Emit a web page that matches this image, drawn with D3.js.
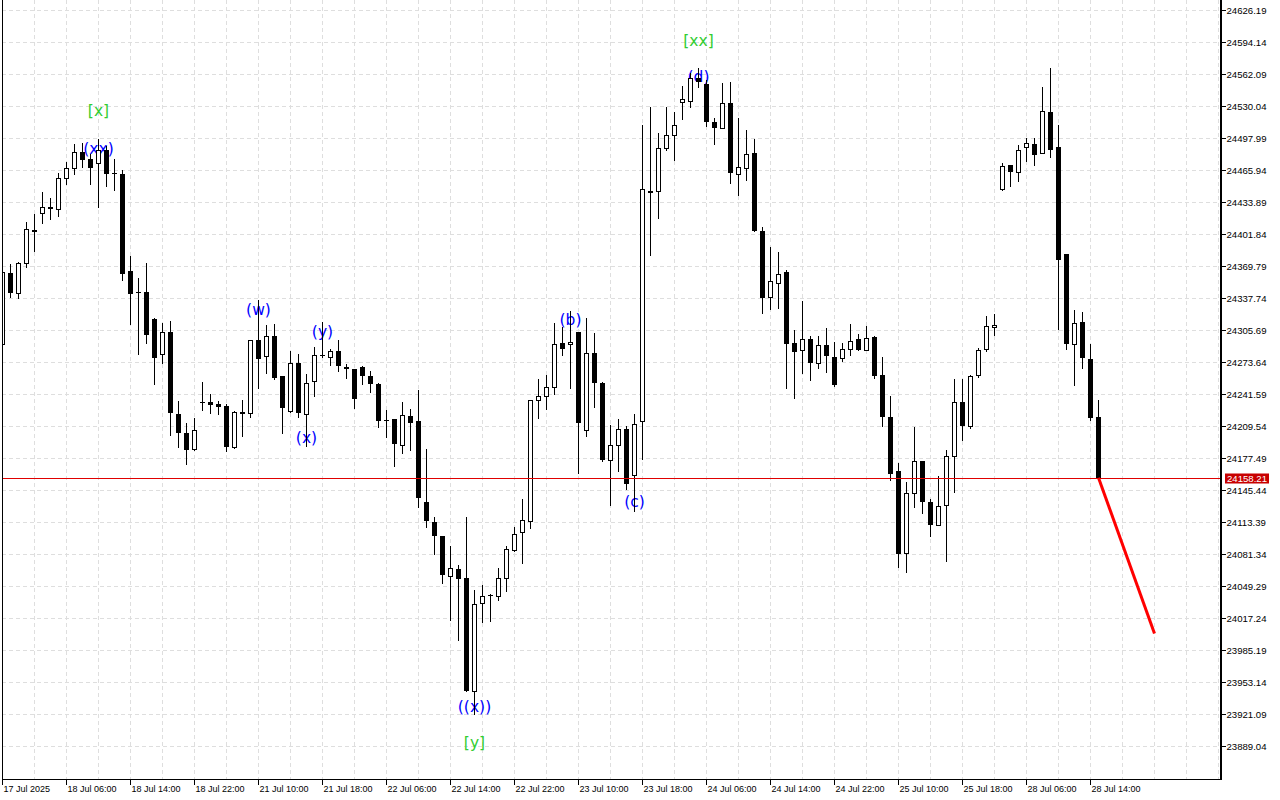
<!DOCTYPE html>
<html lang="en">
<head>
<meta charset="utf-8">
<title>NAS100 H1</title>
<script src="https://d3js.org/d3.v7.min.js"></script>
<style>
  body { margin: 0; background: #fff; }
  svg { display: block; }
  .ax { font-family: "Liberation Sans", Arial, sans-serif; fill: #000; }
  .wave { font-family: "DejaVu Sans", sans-serif; font-size: 15.5px; }
</style>
</head>
<body>
<div id="chart"></div>

<script>

// hourly candles, oldest first
var opens = [24292.4,24363.5,24343.0,24373.5,24406.5,24423.6,24429.6,24427.6,24458.6,24468.6,
  24484.7,24477.7,24473.6,24486.7,24463.2,24462.6,24365.5,24344.4,24344.4,24317.7,
  24282.3,24304.4,24222.3,24203.5,24187.2,24233.6,24234.3,24231.6,24229.6,24188.8,
  24223.1,24223.3,24296.4,24279.9,24300.4,24260.6,24224.9,24273.6,24221.9,24255.3,
  24280.7,24279.3,24285.4,24269.3,24267.6,24269.3,24260.3,24252.3,24216.0,24217.5,
  24191.2,24220.3,24215.2,24134.1,24114.1,24100.1,24060.0,24067.0,24057.9,23944.4,
  24032.9,24040.9,24039.5,24057.6,24086.3,24103.7,24114.7,24236.3,24239.9,24249.3,
  24292.7,24292.4,24304.0,24206.2,24282.7,24253.3,24176.2,24191.2,24207.5,24161.2,
  24215.5,24445.6,24445.6,24488.7,24501.7,24534.7,24535.7,24558.8,24552.8,24515.0,
  24508.7,24533.7,24462.6,24468.0,24483.7,24405.8,24339.4,24353.5,24363.8,24293.4,
  24286.4,24297.4,24273.3,24291.4,24279.6,24278.3,24287.3,24297.4,24286.4,24298.7,
  24261.3,24219.2,24164.8,24082.8,24143.1,24174.5,24134.1,24111.1,24131.1,24179.8,
  24233.6,24209.8,24261.3,24286.7,24309.1,24447.7,24471.4,24464.2,24489.0,24492.1,
  24483.2,24524.1,24489.0,24382.2,24292.3,24314.0,24277.5,24218.8];

var highs = [24367.8,24371.8,24374.5,24413.9,24421.9,24444.9,24438.6,24463.9,24474.9,24492.0,
  24493.3,24482.7,24497.7,24490.0,24477.7,24466.9,24380.5,24358.5,24373.5,24318.4,
  24313.7,24315.7,24235.3,24212.8,24218.2,24254.6,24241.6,24234.6,24232.3,24224.6,
  24235.6,24296.4,24336.7,24310.7,24312.4,24260.6,24284.7,24282.6,24262.3,24289.0,
  24314.0,24287.4,24296.4,24271.9,24267.6,24270.3,24265.6,24253.6,24225.9,24217.5,
  24234.3,24226.9,24245.9,24187.5,24118.7,24100.1,24090.3,24071.0,24119.0,24045.3,
  24050.3,24041.9,24068.3,24090.3,24108.7,24137.4,24236.3,24257.6,24261.6,24313.4,
  24309.0,24325.7,24304.0,24318.0,24302.7,24253.9,24211.5,24216.9,24209.8,24222.3,
  24512.0,24530.0,24503.3,24530.0,24525.0,24550.1,24563.4,24568.8,24556.1,24518.7,
  24553.8,24554.8,24519.0,24507.0,24497.0,24409.8,24389.8,24384.8,24366.5,24305.7,
  24335.7,24299.7,24300.4,24307.7,24294.4,24293.4,24311.7,24301.7,24310.4,24300.4,
  24279.6,24239.6,24173.2,24153.5,24209.5,24174.5,24137.1,24159.5,24186.5,24257.6,
  24256.9,24261.6,24288.5,24320.5,24322.2,24473.5,24471.4,24491.1,24498.7,24498.7,
  24549.7,24568.6,24511.4,24382.2,24326.0,24323.9,24292.1,24236.2];

var lows = [24290.7,24339.0,24338.0,24369.1,24385.8,24413.2,24417.2,24419.9,24452.2,24462.2,
  24469.6,24452.2,24429.2,24450.2,24446.2,24356.1,24312.0,24282.0,24293.0,24251.9,
  24272.9,24201.5,24188.8,24172.2,24186.5,24225.6,24222.9,24221.6,24184.8,24187.8,
  24200.5,24218.9,24247.9,24262.9,24256.9,24202.8,24223.9,24218.9,24189.8,24239.9,
  24279.0,24270.9,24265.3,24257.9,24227.9,24251.9,24243.9,24208.8,24198.8,24169.8,
  24182.8,24185.8,24129.4,24108.7,24081.6,24052.6,24015.5,23995.5,23945.1,23921.1,
  24013.5,24014.5,24035.9,24044.6,24085.3,24072.6,24107.7,24217.8,24227.1,24242.3,
  24281.0,24247.9,24162.8,24200.2,24228.9,24174.8,24130.7,24164.8,24147.1,24125.4,
  24176.8,24381.5,24418.2,24486.0,24476.7,24517.3,24529.7,24549.4,24510.3,24492.7,
  24508.5,24453.2,24441.6,24456.4,24405.1,24323.0,24327.0,24328.0,24247.9,24237.9,
  24262.9,24255.9,24268.3,24263.9,24250.6,24274.9,24281.0,24286.0,24286.4,24257.9,
  24209.8,24156.2,24068.8,24063.8,24128.7,24123.4,24099.7,24110.9,24075.3,24144.1,
  24195.8,24208.2,24259.5,24284.7,24301.5,24446.6,24450.4,24455.9,24475.9,24471.7,
  24483.2,24479.8,24306.7,24287.1,24251.6,24268.1,24216.5,24158.21];

var closes = [24364.1,24343.0,24373.5,24407.5,24404.5,24429.6,24427.6,24458.6,24468.6,24484.7,
  24476.7,24468.2,24486.7,24462.2,24462.2,24362.1,24342.0,24343.4,24301.0,24277.9,
  24304.4,24222.9,24203.2,24186.2,24206.2,24232.9,24231.3,24229.3,24188.8,24223.6,
  24223.6,24296.4,24276.9,24300.4,24258.3,24227.9,24273.6,24222.9,24253.3,24281.0,
  24280.2,24285.4,24269.9,24266.9,24236.9,24259.9,24251.9,24215.2,24215.5,24191.8,
  24221.3,24212.8,24137.9,24114.7,24099.7,24060.6,24068.0,24056.6,23945.1,24031.9,
  24039.9,24039.5,24058.0,24087.0,24102.1,24116.1,24236.3,24239.9,24249.6,24291.7,
  24287.0,24294.4,24212.8,24282.7,24252.9,24175.5,24191.2,24207.2,24151.7,24211.8,
  24447.6,24443.6,24488.7,24501.7,24511.7,24537.7,24558.8,24554.1,24514.7,24508.7,
  24533.7,24463.2,24469.0,24482.7,24405.8,24338.0,24354.8,24362.5,24292.0,24284.0,
  24297.4,24272.9,24291.4,24279.9,24251.6,24287.3,24295.4,24286.0,24298.4,24259.9,
  24219.2,24162.2,24081.8,24143.1,24175.2,24133.7,24111.1,24130.1,24179.8,24234.3,
  24209.8,24260.6,24286.4,24310.2,24311.5,24470.0,24464.9,24486.3,24493.2,24481.8,
  24525.2,24486.0,24376.7,24292.3,24313.0,24277.8,24218.1,24158.21];

var lastPrice = 24158.21;

// price axis labels
var priceTicks = [24626.19,24594.14,24562.09,24530.04,24497.99,24465.94,24433.89,24401.84,
  24369.79,24337.74,24305.69,24273.64,24241.59,24209.54,24177.49,24145.44,24113.39,24081.34,
  24049.29,24017.24,23985.19,23953.14,23921.09,23889.04];

// time axis labels, one every 8 bars
var timeLabels = ["17 Jul 2025","18 Jul 06:00","18 Jul 14:00","18 Jul 22:00","21 Jul 10:00",
  "21 Jul 18:00","22 Jul 06:00","22 Jul 14:00","22 Jul 22:00","23 Jul 10:00","23 Jul 18:00",
  "24 Jul 06:00","24 Jul 14:00","24 Jul 22:00","25 Jul 10:00","25 Jul 18:00","28 Jul 06:00",
  "28 Jul 14:00"];

// wave marks: text, bar, price level, colour
var waveText  = ["[x]","(xx)","(w)","(x)","(y)","((x))","[y]","(b)","(c)","(d)","[xx]"];
var waveBar   = [12, 12, 32, 38, 40, 59, 59, 71, 79, 87, 87];
var waveLevel = [24526.0,24488.0,24326.7,24198.5,24304.7,23929.1,23893.0,24316.7,24134.4,24560.1,24596.1];
var waveColor = ["#32cd32","#0000ff","#0000ff","#0000ff","#0000ff","#0000ff","#32cd32","#0000ff","#0000ff","#0000ff","#32cd32"];

// projected move
var forecastBar = [137, 144];
var forecastPrice = [24158.21, 24002.2];

var width = 1280, height = 800;
var plotRight = 1221, plotBottom = 779;

var svg = d3.select("#chart")
  .append("svg")
  .attr("width", width)
  .attr("height", height);

svg.append("rect").attr("width", width).attr("height", height).attr("fill", "#fff");

var x = d3.scaleLinear().domain([0, 150]).range([2.5, 1202.5]);
var y = d3.scaleLinear().domain([23889.04, 24626.19]).range([746.5, 10.5]);

svg.append("clipPath").attr("id", "plot")
  .append("rect").attr("x", 2).attr("y", 0).attr("width", plotRight - 2).attr("height", plotBottom);

var plot = svg.append("g").attr("clip-path", "url(#plot)");

// grid
plot.append("g")
  .selectAll("line")
  .data(priceTicks)
  .enter().append("line")
    .attr("x1", 2).attr("x2", plotRight)
    .attr("y1", function(d) { return y(d); })
    .attr("y2", function(d) { return y(d); })
    .attr("stroke", "#dedede")
    .attr("stroke-dasharray", "4,3")
    .attr("shape-rendering", "crispEdges");

plot.append("g")
  .selectAll("line")
  .data(d3.range(4, 153, 4))
  .enter().append("line")
    .attr("x1", function(d) { return x(d); })
    .attr("x2", function(d) { return x(d); })
    .attr("y1", 0).attr("y2", plotBottom)
    .attr("stroke", "#dedede")
    .attr("stroke-dasharray", "4,3")
    .attr("shape-rendering", "crispEdges");

// wave labels (under the candles)
plot.append("g")
  .selectAll("text")
  .data(waveText)
  .enter().append("text")
    .attr("class", "wave")
    .attr("x", function(d, i) { return x(waveBar[i]); })
    .attr("y", function(d, i) { return y(waveLevel[i]); })
    .attr("text-anchor", "middle")
    .attr("dy", "0.36em")
    .attr("fill", function(d, i) { return waveColor[i]; })
    .text(function(d) { return d; });

// candles
var bars = d3.range(closes.length).map(function(i) {
  return { i: i, o: opens[i], h: highs[i], l: lows[i], c: closes[i] };
});

var candle = plot.append("g").selectAll("g")
  .data(bars)
  .enter().append("g")
    .attr("shape-rendering", "crispEdges");

candle.append("line")
  .attr("x1", function(d) { return x(d.i); })
  .attr("x2", function(d) { return x(d.i); })
  .attr("y1", function(d) { return Math.round(y(d.h)); })
  .attr("y2", function(d) { return Math.round(y(d.l)) + 1; })
  .attr("stroke", "#000");

candle.append("rect")
  .attr("x", function(d) { return d.c > d.o ? x(d.i) - 2 : x(d.i) - 2.5; })
  .attr("y", function(d) {
    var t = Math.round(y(Math.max(d.o, d.c)));
    return d.c > d.o ? t + 0.5 : t;
  })
  .attr("width", function(d) { return d.c > d.o ? 4 : 5; })
  .attr("height", function(d) {
    var h = Math.round(y(Math.min(d.o, d.c))) - Math.round(y(Math.max(d.o, d.c)));
    return d.c > d.o ? Math.max(h, 0) : Math.max(h, 1);
  })
  .attr("fill", function(d) { return d.c > d.o ? "#fff" : "#000"; })
  .attr("stroke", function(d) { return d.c > d.o ? "#000" : "none"; });

// bid line
plot.append("line")
  .attr("x1", 2).attr("x2", plotRight)
  .attr("y1", Math.round(y(lastPrice)) + 0.5)
  .attr("y2", Math.round(y(lastPrice)) + 0.5)
  .attr("stroke", "#e00000");

// forecast
plot.append("path")
  .datum(d3.range(forecastBar.length))
  .attr("d", d3.line()
    .x(function(i) { return x(forecastBar[i]); })
    .y(function(i) { return y(forecastPrice[i]); }))
  .attr("fill", "none")
  .attr("stroke", "#ff0000")
  .attr("stroke-width", 3);

// frame
svg.append("line").attr("x1", 2.5).attr("x2", 2.5).attr("y1", 0).attr("y2", plotBottom + 1)
  .attr("stroke", "#000");
svg.append("line").attr("x1", 2).attr("x2", plotRight + 1).attr("y1", plotBottom + 0.5).attr("y2", plotBottom + 0.5)
  .attr("stroke", "#000");
svg.append("line").attr("x1", plotRight).attr("x2", plotRight).attr("y1", 0).attr("y2", plotBottom + 1)
  .attr("stroke", "#000").attr("stroke-width", 2);

// price axis
var yAxis = svg.append("g");
yAxis.selectAll("line")
  .data(priceTicks)
  .enter().append("line")
    .attr("x1", plotRight + 1).attr("x2", plotRight + 5)
    .attr("y1", function(d) { return y(d); })
    .attr("y2", function(d) { return y(d); })
    .attr("stroke", "#000")
    .attr("shape-rendering", "crispEdges");
yAxis.selectAll("text")
  .data(priceTicks)
  .enter().append("text")
    .attr("class", "ax")
    .attr("font-size", "9.6px")
    .attr("x", 1226.5)
    .attr("y", function(d) { return y(d); })
    .attr("dy", "0.35em")
    .text(function(d) { return d.toFixed(2); });

// last price box
var by = Math.round(y(lastPrice));
svg.append("rect").attr("x", 1225).attr("y", by - 4.5).attr("width", 44).attr("height", 10)
  .attr("fill", "#c80000");
svg.append("text").attr("class", "ax").attr("font-size", "9.6px")
  .attr("x", 1227).attr("y", by + 0.5).attr("dy", "0.35em")
  .style("fill", "#fff")
  .text(lastPrice.toFixed(2));

// time axis
var xAxis = svg.append("g");
xAxis.selectAll("line")
  .data(timeLabels)
  .enter().append("line")
    .attr("x1", function(d, i) { return x(i * 8); })
    .attr("x2", function(d, i) { return x(i * 8); })
    .attr("y1", plotBottom).attr("y2", plotBottom + 6)
    .attr("stroke", "#000")
    .attr("shape-rendering", "crispEdges");
xAxis.selectAll("text")
  .data(timeLabels)
  .enter().append("text")
    .attr("class", "ax")
    .attr("font-size", "9px")
    .attr("x", function(d, i) { return x(i * 8) + 1; })
    .attr("y", 792)
    .text(function(d) { return d; });

</script>
</body>
</html>
